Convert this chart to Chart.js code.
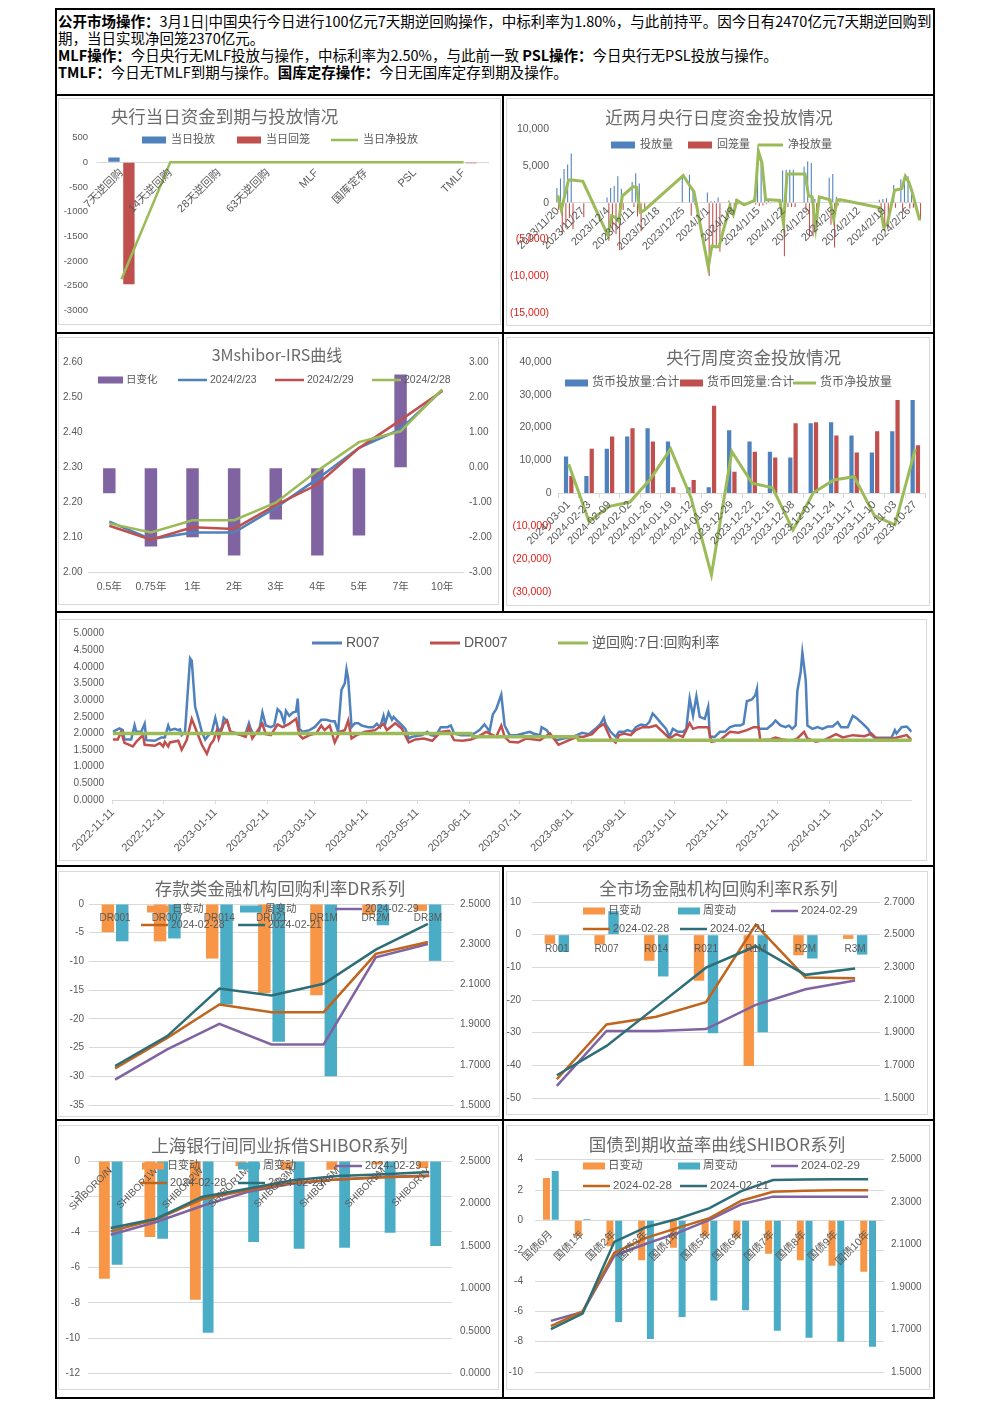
<!DOCTYPE html>
<html><head><meta charset="utf-8">
<script src="https://cdn.jsdelivr.net/npm/chart.js@4.4.0/dist/chart.umd.min.js"></script>
<style>
html,body{margin:0;padding:0;background:#fff;}
#page{position:relative;width:992px;height:1403px;overflow:hidden;background:#fff;}
.hl{position:absolute;background:#000;}
.box{position:absolute;border:1px solid #d9d9d9;box-sizing:border-box;}
#txt{position:absolute;left:58px;top:11.5px;font-family:'Noto Sans CJK SC',sans-serif;font-size:14.5px;line-height:17px;color:#000;white-space:nowrap;}
#txt div{height:17px;}
canvas{position:absolute;}
</style></head>
<body><div id="page">
<div class="hl" style="left:55px;top:8px;width:880px;height:2px"></div>
<div class="hl" style="left:55px;top:8px;width:2px;height:1391px"></div>
<div class="hl" style="left:933px;top:8px;width:2px;height:1391px"></div>
<div class="hl" style="left:55px;top:94px;width:880px;height:2px"></div>
<div class="hl" style="left:55px;top:332px;width:880px;height:2px"></div>
<div class="hl" style="left:55px;top:611px;width:880px;height:2px"></div>
<div class="hl" style="left:55px;top:865px;width:880px;height:2px"></div>
<div class="hl" style="left:55px;top:1119px;width:880px;height:2px"></div>
<div class="hl" style="left:55px;top:1397px;width:880px;height:2px"></div>
<div class="hl" style="left:502px;top:94px;width:2px;height:519px"></div>
<div class="hl" style="left:502px;top:865px;width:2px;height:534px"></div>
<div id="txt">
<div><b>公开市场操作：</b>3月1日|中国央行今日进行100亿元7天期逆回购操作，中标利率为1.80%，与此前持平。因今日有2470亿元7天期逆回购到</div>
<div>期，当日实现净回笼2370亿元。</div>
<div><b>MLF操作：</b>今日央行无MLF投放与操作，中标利率为2.50%，与此前一致 <b>PSL操作：</b>今日央行无PSL投放与操作。</div>
<div><b>TMLF：</b>今日无TMLF到期与操作。<b>国库定存操作：</b>今日无国库定存到期及操作。</div>
</div>
</div>
<script>
// ---------------- DATA ----------------
// Chart 1
const c1Cats = ['7天逆回购','14天逆回购','28天逆回购','63天逆回购','MLF','国库定存','PSL','TMLF'];
const c1Put  = [100,0,0,0,0,0,0,0];
const c1Back = [-2470,0,0,0,0,0,0,-20];
const c1Net  = [-2370,0,0,0,0,0,0,0];

// Chart 2 (daily, 2023-11-20 .. 2024-02-29)
const c2StartDate = [2023,11,20];
const c2DayCount = 102;
const c2TickEvery = 7;
const c2DataIdx = [0,1,2,3,4,7,14,15,16,17,18,21,22,23,24,35,37,38,42,43,44,45,48,49,50,52,55,56,57,58,59,62,63,64,65,66,69,70,71,72,73,76,77,78,79,90,91,92,94,96,97,98,99,101];
const c2Put  = [2000,3300,4600,5200,6700,0,700,2000,2300,3600,1900,2800,4000,2600,0,3700,3800,1800,1400,200,200,700,300,0,500,0,600,7500,5800,600,500,500,4400,4500,4500,4500,4900,5600,5400,500,800,3400,3900,800,400,400,500,600,2400,3200,3700,3600,2000,0];
const c2Back = [-1000,-4300,-3500,-2100,-3600,-2000,-5200,-3800,-4300,-6500,-1000,-600,-1900,-3900,-1100,0,-1800,-300,-10000,-6100,-6200,-6700,-800,-1600,-200,-300,-300,-500,-400,-200,-100,-200,-7300,-600,-600,-600,-1000,-4700,-4600,-3900,0,-3000,-6100,-400,0,-1100,-3900,-3400,-700,-1300,-100,-800,-700,-2400];
const c2Net  = [1000,-1000,1100,3100,3100,2900,-4500,-1800,-2000,-2500,900,2200,2100,-1300,-1100,3700,2200,1500,-8800,-5900,-6000,-6000,-500,-1600,300,-300,300,7000,5400,400,400,300,-2900,3900,3900,3900,3900,900,800,-3400,800,400,-2200,400,400,-700,-3400,-2800,1700,1900,3600,2800,1300,-2400];

// Chart 3
const c3Cats = ['0.5年','0.75年','1年','2年','3年','4年','5年','7年','10年'];
const c3Chg   = [-0.73,-2.25,-1.99,-2.51,-1.48,-2.51,-1.94,2.66,0];
const c3D0223 = [2.146,2.096,2.115,2.115,2.186,2.268,2.357,2.410,2.522];
const c3D0229 = [2.134,2.094,2.130,2.125,2.193,2.252,2.356,2.436,2.519];
const c3D0228 = [2.141,2.115,2.150,2.150,2.200,2.291,2.373,2.404,2.524];

// Chart 4
const c4Cats = ['2024-03-01','2024-02-23','2024-02-09','2024-02-02','2024-01-26','2024-01-19','2024-01-12','2024-01-05','2023-12-29','2023-12-22','2023-12-15','2023-12-08','2023-12-01','2023-11-24','2023-11-17','2023-11-10','2023-11-03','2023-10-27'];
const c4Put  = [11200,5300,13600,17300,19800,15800,1900,1900,19200,15800,12700,10900,21300,21600,17600,12400,18900,28400];
const c4Back = [5300,13600,17300,19800,15800,1900,4100,26600,6600,12700,10900,21300,21600,17600,12400,18900,28400,14600];
const c4Net  = [8900,-8500,-3900,-2600,4300,13500,-1300,-24700,12700,3100,1700,-11100,200,4100,5100,-6800,-9500,13500];

// Chart 5 (x = days since 2022-11-11)
const c5TickDays = [0,30,61,92,120,151,181,212,242,273,304,334,365,395,426,457];
const c5TickLabels = ['2022-11-11','2022-12-11','2023-01-11','2023-02-11','2023-03-11','2023-04-11','2023-05-11','2023-06-11','2023-07-11','2023-08-11','2023-09-11','2023-10-11','2023-11-11','2023-12-11','2024-01-11','2024-02-11'];
const c5R007 = [[0,2.05],[2,2.10],[4,2.15],[6,2.10],[7,1.82],[11,1.82],[13,2.25],[14,2.05],[17,2.05],[19,2.29],[20,1.80],[25,1.78],[29,1.88],[31,1.88],[33,2.24],[34,2.10],[37,2.14],[39,2.10],[40,2.12],[41,1.95],[43,2.05],[46,4.26],[47,4.19],[49,2.80],[51,2.44],[53,2.05],[55,1.82],[57,1.95],[59,2.05],[61,2.47],[63,2.05],[65,2.19],[66,2.47],[68,2.37],[70,2.05],[74,1.98],[77,1.95],[79,2.00],[81,2.31],[82,2.14],[84,1.95],[87,2.05],[89,2.63],[91,2.24],[94,2.19],[96,2.24],[98,2.73],[100,2.63],[102,2.31],[103,2.68],[105,2.53],[107,2.63],[109,2.66],[110,3.05],[111,2.14],[113,2.05],[117,2.10],[120,2.19],[124,2.41],[127,2.41],[130,2.37],[132,2.37],[134,2.05],[136,3.31],[138,3.51],[139,3.93],[140,3.65],[142,2.19],[144,2.31],[146,2.31],[148,2.24],[152,2.19],[155,2.19],[157,2.29],[159,2.19],[161,2.53],[162,2.29],[164,2.63],[166,2.41],[167,2.50],[169,2.39],[172,2.24],[174,2.14],[176,1.85],[178,1.90],[180,1.92],[184,1.95],[187,2.05],[189,1.95],[192,1.92],[195,2.19],[199,2.19],[201,2.24],[203,2.00],[207,1.95],[212,1.95],[215,2.00],[218,2.10],[221,2.27],[223,2.14],[224,2.05],[226,2.58],[228,2.73],[231,3.17],[233,2.24],[236,1.95],[240,1.95],[244,2.00],[248,2.05],[250,2.00],[254,1.95],[255,2.19],[258,2.10],[260,1.95],[264,1.80],[268,1.85],[272,1.88],[276,1.95],[279,2.02],[283,1.98],[287,2.14],[290,2.29],[292,2.47],[293,2.29],[296,2.05],[299,1.90],[301,2.05],[304,2.05],[306,2.10],[309,2.05],[311,2.19],[314,2.27],[317,2.24],[319,2.34],[321,2.60],[323,2.49],[326,2.31],[329,2.14],[331,1.90],[333,2.14],[336,2.05],[339,2.05],[341,2.14],[343,3.05],[345,2.53],[347,3.12],[349,2.50],[352,2.44],[354,2.80],[355,1.90],[358,1.90],[361,2.05],[364,2.05],[367,2.19],[370,2.24],[373,2.24],[375,2.29],[377,2.97],[380,3.02],[382,3.15],[383,3.34],[384,2.14],[389,2.14],[392,2.27],[394,2.39],[397,2.24],[400,2.19],[402,2.24],[404,2.14],[406,2.24],[407,3.27],[409,3.85],[410,4.43],[412,3.61],[413,2.24],[416,2.14],[419,2.19],[422,2.14],[425,2.21],[428,2.21],[431,2.34],[433,2.19],[437,2.19],[440,2.53],[442,2.47],[446,2.29],[449,2.14],[451,1.95],[453,1.87],[456,1.87],[463,1.87],[465,2.10],[466,2.00],[469,2.19],[472,2.21],[475,2.05]];
const c5DR007 = [[0,1.82],[3,1.82],[5,2.05],[7,1.72],[12,1.61],[14,1.75],[18,1.95],[19,1.66],[25,1.63],[28,1.71],[30,1.61],[31,1.75],[33,1.61],[34,1.73],[39,1.78],[41,1.51],[44,1.80],[47,2.44],[50,2.05],[53,1.66],[56,1.39],[58,1.66],[60,1.80],[62,2.10],[63,1.85],[66,2.29],[68,2.39],[70,2.05],[74,2.00],[79,1.90],[81,2.19],[83,1.85],[85,2.00],[89,2.29],[91,1.98],[94,1.95],[98,2.27],[101,2.19],[105,2.29],[109,2.44],[111,1.95],[113,1.85],[117,1.95],[121,2.00],[124,2.24],[126,2.10],[129,2.24],[132,1.73],[135,2.05],[138,2.10],[140,2.39],[142,1.85],[145,1.95],[150,2.05],[156,2.10],[161,2.29],[163,2.10],[168,2.31],[172,2.14],[176,1.73],[180,1.82],[185,1.85],[190,1.78],[195,2.05],[200,2.08],[203,1.80],[208,1.78],[213,1.82],[217,1.90],[222,2.05],[226,1.95],[228,1.90],[231,2.24],[233,1.90],[236,1.75],[241,1.73],[246,1.85],[254,1.80],[260,2.00],[265,1.66],[269,1.75],[276,1.90],[280,1.90],[285,1.98],[289,2.19],[292,2.29],[296,1.85],[299,1.73],[301,1.95],[304,2.00],[308,1.95],[311,2.10],[315,2.19],[319,2.19],[323,2.24],[327,2.05],[331,1.85],[335,1.98],[339,1.90],[343,2.31],[345,2.14],[348,2.19],[354,2.19],[356,1.75],[361,1.80],[367,2.05],[372,2.02],[377,2.10],[381,2.19],[384,2.19],[385,1.80],[391,1.82],[394,1.88],[398,1.82],[404,1.78],[407,1.85],[411,2.05],[413,1.85],[418,1.75],[423,1.80],[430,1.98],[434,1.88],[440,1.95],[447,1.92],[451,2.00],[454,1.85],[464,1.85],[472,1.95],[475,1.80]];
const c5Repo = [[0,2.0],[213,2.0],[214,1.9],[276,1.9],[277,1.8],[475,1.8]];

// Chart 6
const c6Cats = ['DR001','DR007','DR014','DR021','DR1M','DR2M','DR3M'];
const c6Day  = [-4.9,-6.5,-9.5,-15.5,-15.9,-1.9,-1.2];
const c6Week = [-6.5,-6.0,-17.5,-24.0,-30.0,-3.7,-9.9];
const c6D0229 = [1.626,1.777,1.904,1.801,1.801,2.235,2.301];
const c6D0228 = [1.682,1.834,2.000,1.962,1.962,2.252,2.311];
const c6D0221 = [1.694,1.843,2.079,2.045,2.103,2.273,2.401];

// Chart 7
const c7Cats = ['R001','R007','R014','R021','R1M','R2M','R3M'];
const c7Day  = [-2.8,-3.0,-8.0,-14.1,-40.2,-6.3,-1.3];
const c7Week = [-5.3,7.2,-12.8,-30.2,-29.9,-7.3,-6.1];
const c7D0229 = [1.574,1.910,1.910,1.922,2.070,2.166,2.219];
const c7D0228 = [1.615,1.950,1.998,2.087,2.561,2.238,2.233];
const c7D0221 = [1.639,1.819,2.058,2.298,2.429,2.254,2.293];

// Chart 8
const c8Cats = ['SHIBORO/N','SHIBOR1W','SHIBOR2W','SHIBOR1M','SHIBOR3M','SHIBOR6M','SHIBOR9M','SHIBOR1Y'];
const c8Day  = [-6.64,-4.29,-7.83,-0.3,-0.5,-0.5,-0.2,-0.4];
const c8Week = [-5.85,-4.38,-9.69,-4.57,-4.95,-4.89,-4.05,-4.80];
const c8D0229 = [1.634,1.783,1.971,2.136,2.234,2.284,2.312,2.331];
const c8D0228 = [1.673,1.814,2.049,2.155,2.245,2.284,2.310,2.324];
const c8D0221 = [1.712,1.822,2.077,2.175,2.273,2.324,2.343,2.371];

// Chart 9
const c9Cats = ['国债6月','国债1年','国债2年','国债3年','国债4年','国债5年','国债6年','国债7年','国债8年','国债9年','国债10年'];
const c9Day  = [2.8,-1.04,-1.7,-2.63,-1.8,-1.04,-1.15,-2.2,-2.63,-3.0,-3.39];
const c9Week = [3.26,0.09,-6.7,-7.83,-6.37,-5.28,-5.93,-7.28,-7.74,-8.0,-8.33];
const c9D0229 = [1.741,1.783,2.047,2.104,2.155,2.217,2.290,2.326,2.326,2.326,2.326];
const c9D0228 = [1.716,1.786,2.062,2.132,2.179,2.225,2.307,2.349,2.354,2.356,2.356];
const c9D0221 = [1.702,1.775,2.113,2.182,2.222,2.272,2.352,2.404,2.407,2.408,2.408];

// ---------------- STYLE ----------------
const FONT = "'Liberation Sans','Noto Sans CJK SC',sans-serif";
const TFONT = "'Noto Sans CJK SC',sans-serif";
const GRAY = '#595959', GRID = '#d9d9d9', NEG = '#e0201b';
const BLUE = '#4F81BD', RED = '#C0504D', GREEN = '#9BBB59', PURPLE = '#8064A2', TEAL = '#4BACC6', ORANGE = '#F79646', BROWN = '#C0651E', DTEAL = '#2D6E78';

Chart.defaults.font.family = FONT;
Chart.defaults.font.size = 10;
Chart.defaults.color = GRAY;
Chart.defaults.elements.point.radius = 0;
Chart.defaults.elements.line.tension = 0;
Chart.defaults.elements.line.borderWidth = 2.5;

const decor = {
  id: 'decor',
  afterDraw(chart) {
    const d = chart.canvas._deco; if (!d) return;
    const ctx = chart.ctx, B = d.B;
    ctx.save();
    if (d.title) {
      ctx.font = d.title.size + 'px ' + TFONT;
      ctx.fillStyle = '#6a6a6a'; ctx.textAlign = 'center'; ctx.textBaseline = 'middle';
      ctx.fillText(d.title.text, d.title.x - B.l, d.title.y - B.t);
    }
    if (d.legend) {
      const L = d.legend;
      ctx.font = L.size + 'px ' + FONT; ctx.textAlign = 'left'; ctx.textBaseline = 'middle';
      L.items.forEach(it => {
        const ds = chart.data.datasets[it.i];
        const isLine = ds.type === 'line' || (!ds.type && chart.config.type === 'line');
        const x = it.x - B.l, y = it.y - B.t;
        const w = isLine ? L.lineW : L.boxW;
        if (isLine) {
          ctx.strokeStyle = ds.borderColor; ctx.lineWidth = L.lw || 3;
          ctx.beginPath(); ctx.moveTo(x, y); ctx.lineTo(x + w, y); ctx.stroke();
        } else {
          ctx.fillStyle = ds.backgroundColor; ctx.fillRect(x, y - L.boxH / 2, w, L.boxH);
        }
        ctx.fillStyle = GRAY; ctx.fillText(ds.label, x + w + L.gap, y);
      });
    }
    ctx.restore();
  }
};
Chart.register(decor);

function build(B, P, dims, cfg, deco) {
  const page = document.getElementById('page');
  const bx = document.createElement('div'); bx.className = 'box';
  bx.style.left = B.l + 'px'; bx.style.top = B.t + 'px';
  bx.style.width = (B.r - B.l) + 'px'; bx.style.height = (B.b - B.t) + 'px';
  page.appendChild(bx);
  const cv = document.createElement('canvas');
  const w = B.r - B.l, h = B.b - B.t;
  cv.width = w; cv.height = h;
  cv.style.left = B.l + 'px'; cv.style.top = B.t + 'px'; cv.style.width = w + 'px'; cv.style.height = h + 'px';
  page.appendChild(cv);
  cfg.options = cfg.options || {};
  cfg.options.layout = {padding: {left: P.l - B.l - (dims.lw || 0), right: B.r - P.r - (dims.rw || 0), top: P.t - B.t, bottom: B.b - P.b - (dims.bh || 0)}};
  cfg.options.responsive = false; cfg.options.animation = false; cfg.options.devicePixelRatio = 1;
  cfg.options.plugins = {legend: {display: false}, tooltip: {enabled: false}, title: {display: false}};
  deco.B = B; cv._deco = deco;
  return new Chart(cv, cfg);
}

function yAx(o) {
  return {
    position: o.pos || 'left', min: o.min, max: o.max,
    afterFit: s => { s.width = o.w; },
    grid: o.grid ? {display: true, color: GRID, drawTicks: false, lineWidth: 1} : {display: true, drawOnChartArea: false, drawTicks: false},
    border: {display: false},
    ticks: {stepSize: o.step, padding: o.pad, callback: o.fmt, font: {size: o.size || 10},
            color: o.color || GRAY, autoSkip: false}
  };
}
function xAx(o) {
  const t = {autoSkip: false, minRotation: o.rot || 0, maxRotation: o.rot || 0, padding: o.pad || 2,
             font: {size: o.size || 10}, color: GRAY, z: o.atZero ? 2 : 0};
  if (o.cb) t.callback = o.cb;
  return {
    position: o.atZero ? {y: 0} : 'bottom',
    afterFit: s => { s.height = o.h || 0; },
    grid: {display: true, drawOnChartArea: false, drawTicks: !!o.tickMarks, tickLength: 4, color: GRID},
    border: {display: !!o.border, color: GRID},
    ticks: t
  };
}
const fPlain = v => String(v);
const fParen = v => v < 0 ? '(' + Math.abs(v).toLocaleString('en-US') + ')' : v.toLocaleString('en-US');
const negColor = c => (c.tick && c.tick.value < 0) ? NEG : GRAY;
const line = (label, data, color, order, extra) => Object.assign({type: 'line', label, data, borderColor: color, backgroundColor: color, borderWidth: 2.5, pointRadius: 0, tension: 0, order}, extra || {});

// ---------------- RECTS ----------------
const B1 = {l:58,t:98,r:501,b:325},   P1 = {l:97,t:137.7,r:488,b:317};
const B2 = {l:506,t:98,r:931,b:326},  P2 = {l:556,t:129.3,r:928,b:315};
const B3 = {l:58,t:337,r:499,b:605},  P3 = {l:88.5,t:362.7,r:463,b:572.7};
const B4 = {l:506,t:337,r:930,b:606}, P4 = {l:558.5,t:361.7,r:925.5,b:592.3};
const B5 = {l:59,t:619,r:927,b:861},  P5 = {l:112.7,t:629,r:911.7,b:800};
const B6 = {l:58,t:871,r:500,b:1117}, P6 = {l:89,t:904,r:454,b:1105.3};
const B7 = {l:506,t:871,r:928,b:1115},P7 = {l:532,t:902,r:880,b:1102.3};
const B8 = {l:58,t:1125,r:499,b:1390},P8 = {l:88,t:1161,r:452,b:1373.7};
const B9 = {l:506,t:1125,r:930,b:1390},P9 = {l:535,t:1159.7,r:884,b:1374.3};

// ---------------- CHART 1 ----------------
build(B1, P1, {lw: P1.l - B1.l}, {
  type: 'bar',
  data: {labels: c1Cats, datasets: [
    {label: '当日投放', data: c1Put, backgroundColor: BLUE, order: 2, categoryPercentage: 0.61, barPercentage: 0.76},
    {label: '当日回笼', data: c1Back, backgroundColor: RED, order: 2, categoryPercentage: 0.61, barPercentage: 0.76},
    line('当日净投放', c1Net, GREEN, 1)
  ]},
  options: {scales: {
    x: xAx({atZero: true, rot: 45, border: true, size: 11, pad: 4}),
    y: yAx({min: -3000, max: 500, step: 500, w: P1.l - B1.l, pad: 9, fmt: fPlain, size: 9.5})
  }}
}, {title: {text: '央行当日资金到期与投放情况', x: 224.5, y: 116.5, size: 17.5},
    legend: {size: 11, boxW: 24, lineW: 27, boxH: 7, gap: 5, lw: 2.5, items: [{i:0,x:142,y:140},{i:1,x:237,y:140},{i:2,x:331,y:140}]}});

// ---------------- CHART 2 ----------------
const c2Labels = [];
for (let i = 0; i < c2DayCount; i++) {
  const d = new Date(c2StartDate[0], c2StartDate[1] - 1, c2StartDate[2] + i);
  c2Labels.push(d.getFullYear() + '/' + (d.getMonth() + 1) + '/' + d.getDate());
}
function c2Full(vals) {
  const out = new Array(c2DayCount).fill(null);
  c2DataIdx.forEach((ix, k) => { out[ix] = vals[k]; });
  return out;
}
build(B2, P2, {lw: P2.l - B2.l}, {
  type: 'bar',
  data: {labels: c2Labels, datasets: [
    {label: '投放量', data: c2Full(c2Put), backgroundColor: BLUE, order: 2, categoryPercentage: 1, barPercentage: 0.6},
    {label: '回笼量', data: c2Full(c2Back), backgroundColor: RED, order: 2, categoryPercentage: 1, barPercentage: 0.6},
    line('净投放量', c2Full(c2Net), GREEN, 1, {borderWidth: 3, spanGaps: true})
  ]},
  options: {scales: {
    x: xAx({atZero: true, rot: 45, border: true, size: 11, pad: 2, cb: function(v, i) { return i % c2TickEvery === 0 ? c2Labels[i] : ''; }}),
    y: yAx({min: -15000, max: 10000, step: 5000, w: P2.l - B2.l, pad: 7, fmt: fParen, size: 10.5, color: negColor})
  }}
}, {title: {text: '近两月央行日度资金投放情况', x: 719, y: 117, size: 17.5},
    legend: {size: 11, boxW: 24, lineW: 25, boxH: 7, gap: 5, lw: 3, items: [{i:0,x:611,y:145},{i:1,x:688,y:145},{i:2,x:758,y:145}]}});

// ---------------- CHART 3 ----------------
build(B3, P3, {lw: P3.l - B3.l, rw: B3.r - P3.r, bh: B3.b - P3.b}, {
  type: 'bar',
  data: {labels: c3Cats, datasets: [
    {label: '日变化', data: c3Chg, backgroundColor: PURPLE, yAxisID: 'y1', order: 5, categoryPercentage: 0.6, barPercentage: 0.5},
    line('2024/2/23', c3D0223, BLUE, 3, {yAxisID: 'y'}),
    line('2024/2/29', c3D0229, RED, 2, {yAxisID: 'y'}),
    line('2024/2/28', c3D0228, GREEN, 1, {yAxisID: 'y'})
  ]},
  options: {scales: {
    x: xAx({rot: 0, border: true, size: 10.5, pad: 8, h: B3.b - P3.b}),
    y: yAx({min: 2.0, max: 2.6, step: 0.1, w: P3.l - B3.l, pad: 6, fmt: v => v.toFixed(2), size: 10}),
    y1: yAx({pos: 'right', min: -3, max: 3, step: 1, w: B3.r - P3.r, pad: 6, fmt: v => v.toFixed(2), size: 10})
  }}
}, {title: {text: '3Mshibor-IRS曲线', x: 277, y: 355, size: 16},
    legend: {size: 10.5, boxW: 25, lineW: 29, boxH: 7, gap: 3, lw: 2.5, items: [{i:0,x:98,y:380},{i:1,x:178,y:380},{i:2,x:275,y:380},{i:3,x:372,y:380}]}});

// ---------------- CHART 4 ----------------
build(B4, P4, {lw: P4.l - B4.l}, {
  type: 'bar',
  data: {labels: c4Cats, datasets: [
    {label: '货币投放量:合计', data: c4Put, backgroundColor: BLUE, order: 2, categoryPercentage: 0.52, barPercentage: 0.8},
    {label: '货币回笼量:合计', data: c4Back, backgroundColor: RED, order: 2, categoryPercentage: 0.52, barPercentage: 0.8},
    line('货币净投放量', c4Net, GREEN, 1, {borderWidth: 3})
  ]},
  options: {scales: {
    x: xAx({atZero: true, rot: 45, border: true, tickMarks: true, size: 11, pad: 1}),
    y: yAx({min: -30000, max: 40000, step: 10000, w: P4.l - B4.l, pad: 7, fmt: fParen, size: 10.5, color: negColor})
  }}
}, {title: {text: '央行周度资金投放情况', x: 753.5, y: 357, size: 17.5},
    legend: {size: 12, boxW: 23, lineW: 23, boxH: 7, gap: 4, lw: 3, items: [{i:0,x:565,y:383},{i:1,x:680,y:383},{i:2,x:793,y:383}]}});

// ---------------- CHART 5 ----------------
const toXY = arr => arr.map(p => ({x: p[0], y: p[1]}));
build(B5, P5, {lw: P5.l - B5.l, bh: B5.b - P5.b}, {
  type: 'line',
  data: {datasets: [
    {label: 'R007', data: toXY(c5R007), borderColor: BLUE, borderWidth: 2.5, order: 3},
    {label: 'DR007', data: toXY(c5DR007), borderColor: RED, borderWidth: 2.5, order: 2},
    {label: '逆回购:7日:回购利率', data: toXY(c5Repo), borderColor: GREEN, borderWidth: 3.5, order: 1}
  ]},
  options: {scales: {
    x: {type: 'linear', min: 0, max: 475, position: 'bottom',
        afterFit: s => { s.height = B5.b - P5.b; },
        afterBuildTicks: s => { s.ticks = c5TickDays.map(v => ({value: v})); },
        grid: {display: true, drawOnChartArea: false, drawTicks: true, tickLength: 4, color: GRID},
        border: {display: true, color: GRID},
        ticks: {autoSkip: false, minRotation: 45, maxRotation: 45, padding: 2, font: {size: 11}, color: GRAY,
                callback: v => c5TickLabels[c5TickDays.indexOf(v)]}},
    y: yAx({min: 0, max: 5, step: 0.5, w: P5.l - B5.l, pad: 8.7, fmt: v => v.toFixed(4), size: 10})
  }}
}, {legend: {size: 14, lineW: 30, boxW: 30, boxH: 7, gap: 4, lw: 3, items: [{i:0,x:312,y:643},{i:1,x:430,y:643},{i:2,x:558,y:643}]}});

// ---------------- CHARTS 6-9 ----------------
function dual(B, P, cats, day, week, d29, d28, d21, o) {
  return build(B, P, {lw: P.l - B.l, rw: B.r - P.r}, {
    type: 'bar',
    data: {labels: cats, datasets: [
      {label: '日变动', data: day, backgroundColor: ORANGE, yAxisID: 'y', order: 5, categoryPercentage: o.cp, barPercentage: o.bp},
      {label: '周变动', data: week, backgroundColor: TEAL, yAxisID: 'y', order: 5, categoryPercentage: o.cp, barPercentage: o.bp},
      line('2024-02-29', d29, PURPLE, 3, {yAxisID: 'y1'}),
      line('2024-02-28', d28, BROWN, 2, {yAxisID: 'y1'}),
      line('2024-02-21', d21, DTEAL, 1, {yAxisID: 'y1'})
    ]},
    options: {scales: {
      x: xAx({atZero: true, rot: o.rot, size: o.xsize, pad: o.xpad}),
      y: yAx({min: o.lmin, max: o.lmax, step: o.lstep, w: P.l - B.l, pad: o.lpad, fmt: fPlain, size: 10, grid: true}),
      y1: yAx({pos: 'right', min: o.rmin, max: o.rmax, step: o.rstep, w: B.r - P.r, pad: o.rpad, fmt: v => v.toFixed(4), size: 10})
    }}
  }, o.deco);
}
const LG = (size, rows) => ({size, boxW: 22, lineW: 27, boxH: 7, gap: 3, lw: 2.5, items: rows});

dual(B6, P6, c6Cats, c6Day, c6Week, c6D0229, c6D0228, c6D0221, {
  cp: 0.55, bp: 0.87, rot: 0, xsize: 10, xpad: 8, lmin: -35, lmax: 0, lstep: 5, lpad: 5, rmin: 1.5, rmax: 2.5, rstep: 0.2, rpad: 6,
  deco: {title: {text: '存款类金融机构回购利率DR系列', x: 280, y: 888, size: 17.5},
         legend: LG(10.5, [{i:0,x:147,y:909},{i:1,x:240,y:909},{i:2,x:335,y:909},{i:3,x:141,y:925},{i:4,x:238,y:925}])}
});
dual(B7, P7, c7Cats, c7Day, c7Week, c7D0229, c7D0228, c7D0221, {
  cp: 0.56, bp: 0.75, rot: 0, xsize: 10, xpad: 9, lmin: -50, lmax: 10, lstep: 10, lpad: 11, rmin: 1.5, rmax: 2.7, rstep: 0.2, rpad: 4,
  deco: {title: {text: '全市场金融机构回购利率R系列', x: 718.5, y: 888, size: 17.5},
         legend: LG(11, [{i:0,x:583,y:911},{i:1,x:678,y:911},{i:2,x:771,y:911},{i:3,x:583,y:929},{i:4,x:680,y:929}])}
});
dual(B8, P8, c8Cats, c8Day, c8Week, c8D0229, c8D0228, c8D0221, {
  cp: 0.56, bp: 0.85, rot: 45, xsize: 10, xpad: 4, lmin: -12, lmax: 0, lstep: 2, lpad: 8, rmin: 0, rmax: 2.5, rstep: 0.5, rpad: 8,
  deco: {title: {text: '上海银行间同业拆借SHIBOR系列', x: 279.5, y: 1145, size: 17.5},
         legend: LG(11, [{i:0,x:142,y:1166},{i:1,x:238,y:1166},{i:2,x:335,y:1166},{i:3,x:140,y:1183},{i:4,x:238,y:1183}])}
});
dual(B9, P9, c9Cats, c9Day, c9Week, c9D0229, c9D0228, c9D0221, {
  cp: 0.55, bp: 0.8, rot: 45, xsize: 10.5, xpad: 8, lmin: -10, lmax: 4, lstep: 2, lpad: 12, rmin: 1.5, rmax: 2.5, rstep: 0.2, rpad: 7,
  deco: {title: {text: '国债到期收益率曲线SHIBOR系列', x: 717, y: 1144.5, size: 17.5},
         legend: LG(11.5, [{i:0,x:583,y:1166},{i:1,x:678,y:1166},{i:2,x:771,y:1166},{i:3,x:583,y:1186},{i:4,x:680,y:1186}])}
});
</script>
</body></html>
